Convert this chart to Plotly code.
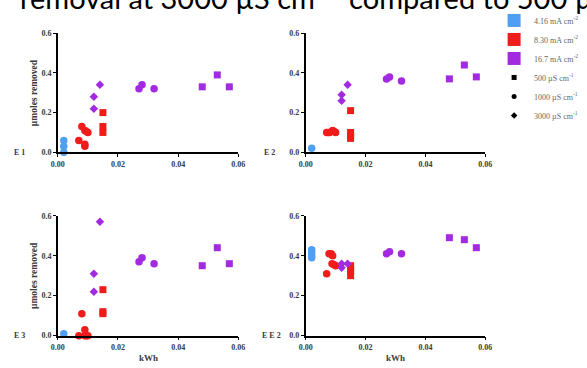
import plotly.graph_objects as go

# ---------------- data ----------------
panels = ["E1", "E2", "E3", "EE2"]
x_ticks = [0.00, 0.02, 0.04, 0.06]
y_ticks = [0.0, 0.2, 0.4, 0.6]

current_labels = ["4.16 mA cm<sup>-2</sup>", "8.30 mA cm<sup>-2</sup>", "16.7 mA cm<sup>-2</sup>"]
current_colors = ["#4f9ff5", "#f01c1c", "#a22ae0"]
cond_labels = ["500 µS cm<sup>-1</sup>", "1000 µS cm<sup>-1</sup>", "3000 µS cm<sup>-1</sup>"]
cond_symbols = ["square", "circle", "diamond"]

E1_blue_c_x = [0.002, 0.002, 0.002]
E1_blue_c_y = [0.06, 0.03, 0.0]
E1_red_c_x = [0.007, 0.008, 0.009, 0.0095, 0.010, 0.009, 0.009]
E1_red_c_y = [0.06, 0.13, 0.11, 0.105, 0.10, 0.04, 0.03]
E1_red_s_x = [0.015, 0.015, 0.015]
E1_red_s_y = [0.20, 0.13, 0.10]
E1_pur_d_x = [0.012, 0.012, 0.014]
E1_pur_d_y = [0.28, 0.22, 0.34]
E1_pur_c_x = [0.027, 0.028, 0.032]
E1_pur_c_y = [0.32, 0.34, 0.32]
E1_pur_s_x = [0.048, 0.053, 0.057]
E1_pur_s_y = [0.33, 0.39, 0.33]

E2_blue_c_x = [0.002]
E2_blue_c_y = [0.02]
E2_red_c_x = [0.007, 0.0075, 0.008, 0.009, 0.0095, 0.010]
E2_red_c_y = [0.10, 0.10, 0.10, 0.11, 0.105, 0.10]
E2_red_s_x = [0.015, 0.015, 0.015, 0.015]
E2_red_s_y = [0.21, 0.10, 0.085, 0.07]
E2_pur_d_x = [0.012, 0.012, 0.014]
E2_pur_d_y = [0.29, 0.26, 0.34]
E2_pur_c_x = [0.027, 0.028, 0.032]
E2_pur_c_y = [0.37, 0.38, 0.36]
E2_pur_s_x = [0.048, 0.053, 0.057]
E2_pur_s_y = [0.37, 0.44, 0.38]

E3_blue_c_x = [0.002]
E3_blue_c_y = [0.01]
E3_red_c_x = [0.007, 0.008, 0.009, 0.009, 0.0095, 0.010]
E3_red_c_y = [0.0, 0.11, 0.03, 0.0, 0.0, 0.0]
E3_red_s_x = [0.015, 0.015, 0.015]
E3_red_s_y = [0.23, 0.12, 0.11]
E3_pur_d_x = [0.014, 0.012, 0.012]
E3_pur_d_y = [0.57, 0.31, 0.22]
E3_pur_c_x = [0.027, 0.028, 0.032]
E3_pur_c_y = [0.37, 0.39, 0.36]
E3_pur_s_x = [0.048, 0.053, 0.057]
E3_pur_s_y = [0.35, 0.44, 0.36]

EE2_blue_c_x = [0.002, 0.002, 0.002, 0.002]
EE2_blue_c_y = [0.43, 0.415, 0.40, 0.39]
EE2_red_c_x = [0.007, 0.0078, 0.0085, 0.009, 0.0088, 0.0095, 0.010]
EE2_red_c_y = [0.31, 0.41, 0.41, 0.40, 0.36, 0.355, 0.35]
EE2_red_s_x = [0.015, 0.015, 0.015, 0.015]
EE2_red_s_y = [0.35, 0.335, 0.32, 0.30]
EE2_pur_d_x = [0.012, 0.012, 0.014]
EE2_pur_d_y = [0.36, 0.34, 0.36]
EE2_pur_c_x = [0.027, 0.028, 0.032]
EE2_pur_c_y = [0.41, 0.42, 0.41]
EE2_pur_s_x = [0.048, 0.053, 0.057]
EE2_pur_s_y = [0.49, 0.48, 0.44]

groups = {
    "E1": [(0, 1, E1_blue_c_x, E1_blue_c_y), (1, 1, E1_red_c_x, E1_red_c_y),
           (1, 0, E1_red_s_x, E1_red_s_y), (2, 2, E1_pur_d_x, E1_pur_d_y),
           (2, 1, E1_pur_c_x, E1_pur_c_y), (2, 0, E1_pur_s_x, E1_pur_s_y)],
    "E2": [(0, 1, E2_blue_c_x, E2_blue_c_y), (1, 1, E2_red_c_x, E2_red_c_y),
           (1, 0, E2_red_s_x, E2_red_s_y), (2, 2, E2_pur_d_x, E2_pur_d_y),
           (2, 1, E2_pur_c_x, E2_pur_c_y), (2, 0, E2_pur_s_x, E2_pur_s_y)],
    "E3": [(0, 1, E3_blue_c_x, E3_blue_c_y), (1, 1, E3_red_c_x, E3_red_c_y),
           (1, 0, E3_red_s_x, E3_red_s_y), (2, 2, E3_pur_d_x, E3_pur_d_y),
           (2, 1, E3_pur_c_x, E3_pur_c_y), (2, 0, E3_pur_s_x, E3_pur_s_y)],
    "EE2": [(0, 1, EE2_blue_c_x, EE2_blue_c_y), (1, 1, EE2_red_c_x, EE2_red_c_y),
            (1, 0, EE2_red_s_x, EE2_red_s_y), (2, 2, EE2_pur_d_x, EE2_pur_d_y),
            (2, 1, EE2_pur_c_x, EE2_pur_c_y), (2, 0, EE2_pur_s_x, EE2_pur_s_y)],
}

# ---------------- layout geometry ----------------
W, H = 587, 368
xdom = [[52 / W, 237 / W], [306 / W, 490 / W]]
ydom_top = [1 - 152 / H, 1 - 30 / H]
ydom_bot = [1 - 340 / H, 1 - 217 / H]
panel_axes = {
    "E1": (1, xdom[0], ydom_top),
    "E2": (2, xdom[1], ydom_top),
    "E3": (3, xdom[0], ydom_bot),
    "EE2": (4, xdom[1], ydom_bot),
}
sym_size = {"square": 7, "circle": 7.5, "diamond": 6.5}
tick_font = dict(family="Liberation Serif", size=8, color="#3a3a3a", weight="bold")

fig = go.Figure()

for name in panels:
    n, xd, yd = panel_axes[name]
    suffix = "" if n == 1 else str(n)
    for ci, si, xs, ys in groups[name]:
        sym = cond_symbols[si]
        fig.add_trace(go.Scatter(
            x=xs, y=ys, mode="markers", showlegend=False, cliponaxis=False,
            xaxis="x" + suffix, yaxis="y" + suffix,
            marker=dict(symbol=sym, size=sym_size[sym], color=current_colors[ci],
                        line=dict(width=0)),
        ))
    axis_common = dict(showline=True, linecolor="black", linewidth=1.5, showgrid=False,
                       zeroline=False, ticks="outside", ticklen=3, tickwidth=1,
                       tickcolor="black", tickfont=tick_font)
    fig.layout["xaxis" + suffix] = dict(domain=xd, anchor="y" + suffix, range=[0, 0.06],
                                        tickvals=x_ticks, tickformat=".2f", **axis_common)
    fig.layout["yaxis" + suffix] = dict(domain=yd, anchor="x" + suffix, range=[0, 0.6],
                                        tickvals=y_ticks, tickformat=".1f", **axis_common)

# legend entries
for ci in range(3):
    fig.add_trace(go.Scatter(x=[None], y=[None], mode="markers", name=current_labels[ci],
                             marker=dict(symbol="square", size=13, color=current_colors[ci])))
for si in range(3):
    fig.add_trace(go.Scatter(x=[None], y=[None], mode="markers", name=cond_labels[si],
                             marker=dict(symbol=cond_symbols[si], size=5, color="black")))

annotations = []
lab_font = dict(family="Liberation Serif", size=8, color="#3a3a3a", weight="bold")
# panel labels
for name, xp, yp in [("E 1", 5, 152), ("E 2", 261, 152), ("E 3", 5, 340), ("E E 2", 259, 340)]:
    annotations.append(dict(text=name, x=xp / W, y=1 - yp / H, xref="paper", yref="paper",
                            xanchor="left", yanchor="middle", showarrow=False, font=lab_font))
# y titles
for yd in [ydom_top, ydom_bot]:
    annotations.append(dict(text="µmoles removed", x=27 / W, y=(yd[0] + yd[1]) / 2,
                            xref="paper", yref="paper", textangle=-90, showarrow=False,
                            xanchor="center", yanchor="middle",
                            font=dict(family="Liberation Serif", size=9.5, color="#3a3a3a",
                                      weight="bold")))
# x titles
for xd in xdom:
    annotations.append(dict(text="kWh", x=(xd[0] + xd[1]) / 2, y=1 - 363 / H,
                            xref="paper", yref="paper", showarrow=False,
                            xanchor="center", yanchor="middle",
                            font=dict(family="Liberation Serif", size=9, color="#3a3a3a",
                                      weight="bold")))
# cropped slide title
annotations.append(dict(text="removal at 3000 µS cm<sup>-1</sup>  compared to 500 µS cm<sup>-1</sup>",
                        x=11 / W, y=1 - 13 / H, xref="paper", yref="paper",
                        xanchor="left", yanchor="bottom", showarrow=False,
                        font=dict(family="Lato", size=29, color="black")))

fig.update_layout(
    width=W, height=H, margin=dict(l=0, r=0, t=0, b=0),
    paper_bgcolor="white", plot_bgcolor="white",
    showlegend=True,
    legend=dict(x=499 / W, y=1 - 2 / H, xanchor="left", yanchor="top",
                font=dict(family="Liberation Serif", size=8, color="#666666"),
                bgcolor="rgba(0,0,0,0)", itemsizing="trace", tracegroupgap=0),
    annotations=annotations,
)

fig.write_html("out.html")
